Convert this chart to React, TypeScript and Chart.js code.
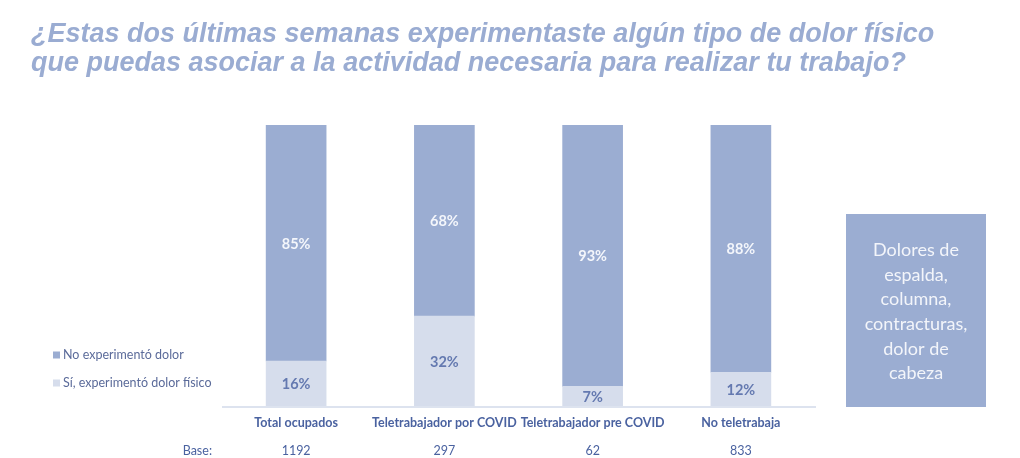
import React, { useEffect, useRef } from "react";
import { Chart, registerables } from "chart.js";

Chart.register(...registerables);

const categories = ["Total ocupados", "Teletrabajador por COVID", "Teletrabajador pre COVID", "No teletrabaja"];
const bases = ["1192", "297", "62", "833"];
const siDolor = [16, 32, 7, 12];
const noDolor = [85, 68, 93, 88];
const seriesNames = ["Sí, experimentó dolor físico", "No experimentó dolor"];
const titleLines = [
  "¿Estas dos últimas semanas experimentaste algún tipo de dolor físico",
  "que puedas asociar a la actividad necesaria para realizar tu trabajo?",
];
const boxLines = ["Dolores de", "espalda,", "columna,", "contracturas,", "dolor de", "cabeza"];

const DARK = "#9badd2";
const LIGHT = "#d6ddec";
const TEXT_BLUE = "#4a62a0";

const overlay = {
  id: "overlay",
  afterDatasetsDraw(chart: any) {
    const ctx = chart.ctx;
    const area = chart.chartArea;
    const xs = chart.scales.x;
    const ys = chart.scales.y;

    // data labels
    ctx.save();
    ctx.beginPath();
    ctx.rect(area.left, area.top, area.right - area.left, area.bottom - area.top);
    ctx.clip();
    chart.data.datasets.forEach((ds: any, di: number) => {
      const meta = chart.getDatasetMeta(di);
      meta.data.forEach((el: any, i: number) => {
        const top = Math.max(el.y, area.top);
        const cy = (top + el.base) / 2 + 1;
        ctx.font = "bold 14.5px Lato";
        ctx.fillStyle = di === 0 ? "#6479b0" : "#f4f6fb";
        ctx.textAlign = "center";
        ctx.textBaseline = "middle";
        ctx.fillText(ds.data[i] + "%", el.x, cy);
      });
    });
    ctx.restore();

    ctx.save();
    // axis line
    const y0 = ys.getPixelForValue(0);
    ctx.strokeStyle = "#dde3ef";
    ctx.lineWidth = 2;
    ctx.beginPath();
    ctx.moveTo(area.left, y0 + 1);
    ctx.lineTo(area.right + 1, y0 + 1);
    ctx.stroke();

    // category labels & bases
    ctx.textAlign = "center";
    ctx.textBaseline = "middle";
    categories.forEach((c, i) => {
      const x = xs.getPixelForValue(i);
      ctx.font = "bold 12.5px Lato";
      ctx.fillStyle = TEXT_BLUE;
      ctx.fillText(c, x, 423);
      ctx.font = "12.5px Lato";
      ctx.fillText(bases[i], x, 451);
    });
    ctx.textAlign = "right";
    ctx.font = "12.5px Lato";
    ctx.fillStyle = TEXT_BLUE;
    ctx.fillText("Base:", 212, 451);

    // title
    ctx.textAlign = "left";
    ctx.textBaseline = "alphabetic";
    ctx.font = "italic bold 27px 'Liberation Sans'";
    ctx.fillStyle = "#9aacd2";
    titleLines.forEach((t, i) => ctx.fillText(t, 31, 42 + i * 29));

    // legend
    const legendItems = [
      { label: seriesNames[1], color: DARK, y: 355 },
      { label: seriesNames[0], color: LIGHT, y: 383 },
    ];
    ctx.textBaseline = "middle";
    ctx.font = "12.5px Lato";
    legendItems.forEach((it) => {
      ctx.fillStyle = it.color;
      ctx.fillRect(53, it.y - 3.5, 7, 7);
      ctx.fillStyle = "#5b6b9a";
      ctx.fillText(it.label, 63, it.y);
    });

    // side box
    ctx.fillStyle = DARK;
    ctx.fillRect(846, 214, 140, 193);
    ctx.fillStyle = "#f3f5fa";
    ctx.textAlign = "center";
    ctx.font = "18px Lato";
    boxLines.forEach((l, i) => ctx.fillText(l, 916, 250 + i * 24.7));
    ctx.restore();
  },
};

export default function App() {
  const ref = useRef<HTMLCanvasElement>(null);
  useEffect(() => {
    document.body.style.margin = "0";
    const chart = new Chart(ref.current!, {
      type: "bar",
      data: {
        labels: categories,
        datasets: [
          { label: seriesNames[0], data: siDolor, backgroundColor: LIGHT, barThickness: 60 },
          { label: seriesNames[1], data: noDolor, backgroundColor: DARK, barThickness: 60 },
        ],
      },
      options: {
        animation: false,
        responsive: false,
        layout: { padding: { left: 222, right: 205, top: 125, bottom: 52 } },
        plugins: { legend: { display: false }, tooltip: { enabled: false }, title: { display: false } },
        scales: {
          x: { stacked: true, display: false },
          y: { stacked: true, display: false, min: 0, max: 100 },
        },
      },
      plugins: [overlay],
    });
    return () => chart.destroy();
  }, []);
  return (
    <div style={{ width: 1020, height: 458, background: "#ffffff" }}>
      <canvas ref={ref} width={1020} height={458} style={{ display: "block" }} />
    </div>
  );
}
